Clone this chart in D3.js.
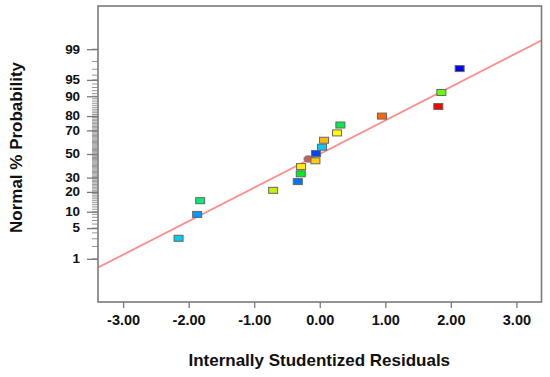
<!DOCTYPE html>
<html>
<head>
<meta charset="utf-8">
<script src="https://cdn.jsdelivr.net/npm/d3@7"></script>
<style>
  html, body { margin: 0; padding: 0; background: #fff; }
  svg { display: block; }
  text { font-family: "Liberation Sans", Arial, sans-serif; }
</style>
</head>
<body>
<svg id="chart" width="550" height="377"></svg>
<script>
// ---- data ----
const residuals = [-2.154, -1.870, -1.824, -0.711, -0.335, -0.290, -0.285, -0.173, -0.066, -0.056, 0.035, 0.066, 0.264, 0.315, 0.950, 1.809, 1.855, 2.134];
const probabilities = [3.07, 9.0, 15.0, 21.0, 27.0, 33.0, 39.0, 45.6, 44.0, 50.5, 56.0, 62.0, 68.0, 74.0, 80.0, 85.4, 91.4, 97.1];
const pointColors = ["#00ccee", "#0099ff", "#00ee77", "#ccee00", "#0077ee", "#00ee22", "#ffee00", "#c06060", "#ffcc00", "#0044ff", "#00ccff", "#ffbb00", "#ffff00", "#00ee44", "#ff6600", "#ff0000", "#66ff00", "#0000ff"];
const pointShapes = ["rect","rect","rect","rect","rect","rect","rect","circle","rect","rect","rect","rect","rect","rect","rect","rect","rect","rect"];
const lineResiduals = [-3.38, 3.38];
const lineProbabilities = [0.59, 99.41];
const xTicks = [-3, -2, -1, 0, 1, 2, 3];
const yTickLabels = [1, 5, 10, 20, 30, 50, 70, 80, 90, 95, 99];
const yMinorTicks = d3.range(1, 100);
const xTitle = "Internally Studentized Residuals";
const yTitle = "Normal % Probability";

// inverse normal CDF (Acklam)
function probit(p) {
  const a = [-3.969683028665376e+01, 2.209460984245205e+02, -2.759285104469687e+02, 1.383577518672690e+02, -3.066479806614716e+01, 2.506628277459239e+00];
  const b = [-5.447609879822406e+01, 1.615858368580409e+02, -1.556989798598866e+02, 6.680131188771972e+01, -1.328068155288572e+01];
  const c = [-7.784894002430293e-03, -3.223964580411365e-01, -2.400758277161838e+00, -2.549732539343734e+00, 4.374664141464968e+00, 2.938163982698783e+00];
  const d = [7.784695709041462e-03, 3.224671290700398e-01, 2.445134137142996e+00, 3.754408661907416e+00];
  const pl = 0.02425, ph = 1 - pl;
  let q, r;
  if (p < pl) {
    q = Math.sqrt(-2 * Math.log(p));
    return (((((c[0]*q+c[1])*q+c[2])*q+c[3])*q+c[4])*q+c[5]) / ((((d[0]*q+d[1])*q+d[2])*q+d[3])*q+1);
  } else if (p <= ph) {
    q = p - 0.5; r = q * q;
    return (((((a[0]*r+a[1])*r+a[2])*r+a[3])*r+a[4])*r+a[5])*q / (((((b[0]*r+b[1])*r+b[2])*r+b[3])*r+b[4])*r+1);
  } else {
    q = Math.sqrt(-2 * Math.log(1 - p));
    return -(((((c[0]*q+c[1])*q+c[2])*q+c[3])*q+c[4])*q+c[5]) / ((((d[0]*q+d[1])*q+d[2])*q+d[3])*q+1);
  }
}

// ---- layout ----
const mLeft = 98, mRight = 541.5, mTop = 6, mBottom = 302;
const svg = d3.select("#chart");

const x = d3.scaleLinear().domain([-3.383, 3.383]).range([mLeft, mRight]);
const yz = d3.scaleLinear().domain([-3.285, 3.285]).range([mBottom, mTop]);
const y = p => yz(probit(p / 100));

const axisColor = "#7a7a7a";

// clip
svg.append("clipPath").attr("id", "clip")
  .append("rect").attr("x", mLeft).attr("y", mTop).attr("width", mRight - mLeft).attr("height", mBottom - mTop);

// fit line
const lineGen = d3.line().x(d => x(d[0])).y(d => y(d[1]));
svg.append("path")
  .datum(lineResiduals.map((r, i) => [r, lineProbabilities[i]]))
  .attr("d", lineGen)
  .attr("clip-path", "url(#clip)")
  .attr("fill", "none")
  .attr("stroke", "#ff8c8c")
  .attr("stroke-width", 1.8);

// frame
svg.append("rect")
  .attr("x", mLeft).attr("y", mTop).attr("width", mRight - mLeft).attr("height", mBottom - mTop)
  .attr("fill", "none").attr("stroke", axisColor).attr("stroke-width", 1.6);

// x axis
const xAxis = d3.axisBottom(x).tickValues(xTicks).tickFormat(d => d.toFixed(2)).tickSize(6).tickPadding(7);
const gx = svg.append("g").attr("transform", `translate(0,${mBottom})`).call(xAxis);
gx.select(".domain").remove();
gx.selectAll(".tick line").attr("stroke", axisColor).attr("stroke-width", 1.3);
gx.selectAll(".tick text").attr("fill", "#111").attr("font-size", 14.5).attr("font-weight", "bold")
  .attr("font-family", "'Liberation Sans', Arial, sans-serif");

// y minor ticks
const gyMinor = svg.append("g");
gyMinor.selectAll("line").data(yMinorTicks).join("line")
  .attr("x1", mLeft - 6).attr("x2", mLeft)
  .attr("y1", d => y(d)).attr("y2", d => y(d))
  .attr("stroke", "#8a8a8a").attr("stroke-width", 0.9);

// y major ticks / labels
const yAxis = d3.axisLeft(yz).tickValues(yTickLabels.map(p => probit(p / 100)))
  .tickFormat((d, i) => yTickLabels[i]).tickSize(11).tickPadding(5);
const gy = svg.append("g").attr("transform", `translate(${mLeft},0)`).call(yAxis);
gy.select(".domain").remove();
gy.selectAll(".tick line").attr("stroke", axisColor).attr("stroke-width", 1.3);
gy.selectAll(".tick text").attr("fill", "#111").attr("font-size", 12).attr("font-weight", "bold")
  .attr("font-family", "'Liberation Sans', Arial, sans-serif")
  .attr("transform", "scale(1.12,1)");

// points
const pts = residuals.map((r, i) => ({ r, p: probabilities[i], c: pointColors[i], s: pointShapes[i] }));
const gp = svg.append("g");
pts.filter(d => d.s === "circle").forEach(d => {
  gp.append("ellipse").attr("cx", x(d.r)).attr("cy", y(d.p)).attr("rx", 4.5).attr("ry", 3.3)
    .attr("fill", d.c).attr("stroke", "#777").attr("stroke-width", 0.8);
});
gp.selectAll("rect").data(pts.filter(d => d.s === "rect")).join("rect")
  .attr("x", d => x(d.r) - 4.5).attr("y", d => y(d.p) - 3)
  .attr("width", 9).attr("height", 6)
  .attr("fill", d => d.c).attr("stroke", "#666").attr("stroke-width", 1);

// titles
svg.append("text")
  .attr("x", (mLeft + mRight) / 2 - 0.5).attr("y", 366)
  .attr("text-anchor", "middle").attr("font-size", 17).attr("font-weight", "bold").attr("fill", "#111")
  .text(xTitle);
svg.append("text")
  .attr("transform", `translate(22,${147.5}) rotate(-90)`)
  .attr("text-anchor", "middle").attr("font-size", 17).attr("font-weight", "bold").attr("fill", "#111")
  .text(yTitle);
</script>
</body>
</html>
